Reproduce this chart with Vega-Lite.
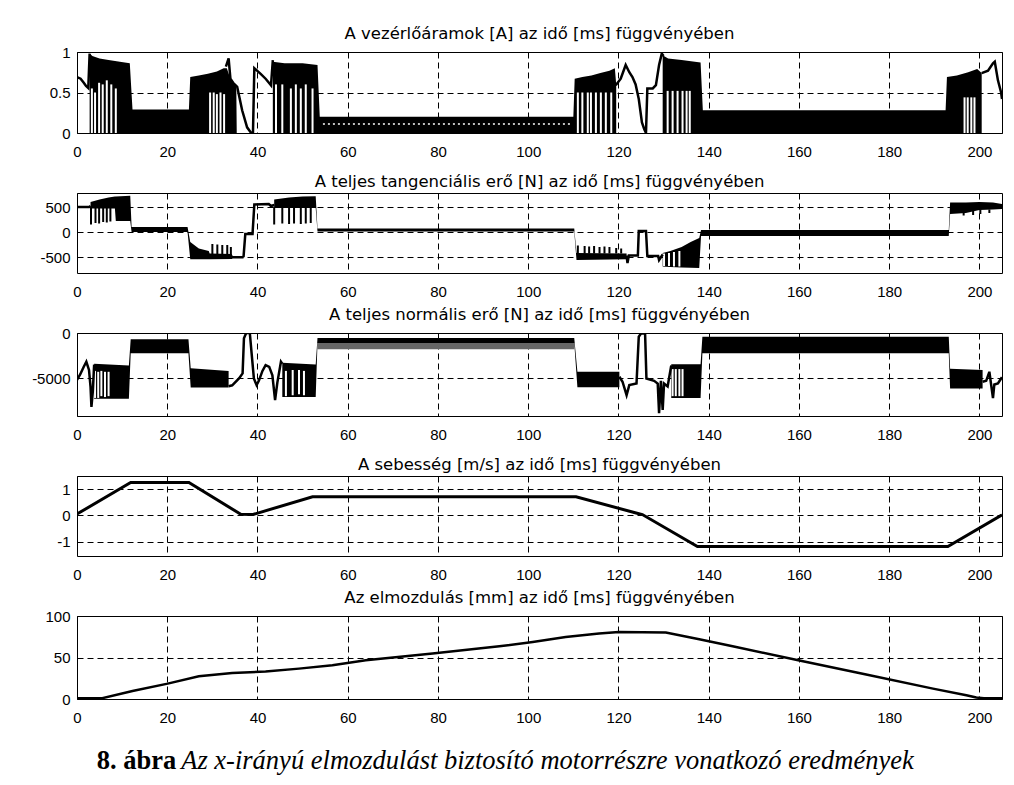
{
"$schema": "https://vega.github.io/schema/vega-lite/v6.json",
"padding": {"left": 31, "top": 25, "right": 5, "bottom": 5},
"background": "white",
"spacing": 60,
"bounds": "flush",
"datasets": {
"p1a": [
{"s":1,"t":2.8,"lo":0,"hi":0.98},{"s":1,"t":3.4,"lo":0,"hi":0.95},{"s":1,"t":5.0,"lo":0,"hi":0.92},{"s":1,"t":7.0,"lo":0,"hi":0.90},{"s":1,"t":9.5,"lo":0,"hi":0.88},{"s":1,"t":11.7,"lo":0,"hi":0.86},{"s":1,"t":12.3,"lo":0,"hi":0.29},{"s":1,"t":24.8,"lo":0,"hi":0.29},{"s":1,"t":25.1,"lo":0,"hi":0.69},{"s":1,"t":27.0,"lo":0,"hi":0.71},{"s":1,"t":29.0,"lo":0,"hi":0.73},{"s":1,"t":31.0,"lo":0,"hi":0.76},{"s":1,"t":32.5,"lo":0,"hi":0.80},{"s":1,"t":33.2,"lo":0,"hi":0.80},{"s":1,"t":34.0,"lo":0,"hi":0.67},{"s":1,"t":35.3,"lo":0,"hi":0.57},{"s":1,"t":35.4,"lo":0,"hi":0},
{"s":2,"t":43.4,"lo":0,"hi":0.88},{"s":2,"t":46.0,"lo":0,"hi":0.86},{"s":2,"t":50.0,"lo":0,"hi":0.86},{"s":2,"t":53.3,"lo":0,"hi":0.84},{"s":2,"t":53.8,"lo":0,"hi":0.2},{"s":2,"t":110.0,"lo":0,"hi":0.2},{"s":2,"t":110.3,"lo":0,"hi":0.67},{"s":2,"t":112.0,"lo":0,"hi":0.69},{"s":2,"t":114.0,"lo":0,"hi":0.71},{"s":2,"t":116.0,"lo":0,"hi":0.74},{"s":2,"t":118.0,"lo":0,"hi":0.77},{"s":2,"t":119.2,"lo":0,"hi":0.80},{"s":2,"t":119.5,"lo":0,"hi":0.6},
{"s":3,"t":129.8,"lo":0,"hi":0.96},{"s":3,"t":131.0,"lo":0,"hi":0.92},{"s":3,"t":134.0,"lo":0,"hi":0.90},{"s":3,"t":138.2,"lo":0,"hi":0.87},{"s":3,"t":138.7,"lo":0,"hi":0.28},{"s":3,"t":192.5,"lo":0,"hi":0.28},{"s":3,"t":192.8,"lo":0,"hi":0.69},{"s":3,"t":195.0,"lo":0,"hi":0.71},{"s":3,"t":197.5,"lo":0,"hi":0.75},{"s":3,"t":199.5,"lo":0,"hi":0.79},{"s":3,"t":200.5,"lo":0,"hi":0.74}
],
"p1l": [
{"s":1,"t":0,"lo":0.69},{"s":1,"t":0.8,"lo":0.67},{"s":1,"t":1.5,"lo":0.62},{"s":1,"t":2.0,"lo":0.58},{"s":1,"t":2.5,"lo":0.555},{"s":1,"t":2.8,"lo":0.98},
{"s":2,"t":33.0,"lo":0.82},{"s":2,"t":33.6,"lo":0.92},{"s":2,"t":34.0,"lo":0.67},{"s":2,"t":34.6,"lo":0.62},{"s":2,"t":35.5,"lo":0.57},{"s":2,"t":36.6,"lo":0.28},{"s":2,"t":37.7,"lo":0.07},{"s":2,"t":38.6,"lo":0.0},{"s":2,"t":39.0,"lo":0.0},{"s":2,"t":39.3,"lo":0.80},{"s":2,"t":40.7,"lo":0.73},{"s":2,"t":41.8,"lo":0.67},{"s":2,"t":43.0,"lo":0.59},{"s":2,"t":43.4,"lo":0.90},
{"s":4,"t":119.4,"lo":0.59},{"s":4,"t":120.5,"lo":0.67},{"s":4,"t":121.6,"lo":0.84},{"s":4,"t":122.4,"lo":0.75},{"s":4,"t":123.1,"lo":0.69},{"s":4,"t":123.8,"lo":0.60},{"s":4,"t":124.5,"lo":0.42},{"s":4,"t":125.2,"lo":0.13},{"s":4,"t":125.7,"lo":0.05},{"s":4,"t":126.1,"lo":0.0},{"s":4,"t":126.4,"lo":0.55},{"s":4,"t":127.6,"lo":0.55},{"s":4,"t":128.3,"lo":0.59},{"s":4,"t":129.0,"lo":0.84},{"s":4,"t":129.6,"lo":0.98},{"s":4,"t":130.0,"lo":0.95},
{"s":5,"t":200.5,"lo":0.74},{"s":5,"t":201.9,"lo":0.77},{"s":5,"t":203.0,"lo":0.86},{"s":5,"t":203.4,"lo":0.88},{"s":5,"t":204.1,"lo":0.65},{"s":5,"t":204.8,"lo":0.5},{"s":5,"t":205,"lo":0.42}
],
"p1d": [
{"s":1,"t":54.5,"lo":0.11},{"s":1,"t":109.5,"lo":0.11}
],
"p1g": [
{"t":3.3,"lo":0,"hi":0.55},{"t":4.0,"lo":0,"hi":0.5},{"t":4.9,"lo":0,"hi":0.62},{"t":5.7,"lo":0,"hi":0.6},{"t":6.6,"lo":0,"hi":0.65},{"t":7.6,"lo":0,"hi":0.6},{"t":8.6,"lo":0,"hi":0.55},
{"t":29.5,"lo":0,"hi":0.5},{"t":30.3,"lo":0,"hi":0.5},{"t":31.0,"lo":0,"hi":0.48},{"t":31.8,"lo":0,"hi":0.5},{"t":32.6,"lo":0,"hi":0.48},
{"t":44.1,"lo":0,"hi":0.6},{"t":45.5,"lo":0,"hi":0.6},{"t":47.4,"lo":0,"hi":0.55},{"t":48.5,"lo":0,"hi":0.6},{"t":49.6,"lo":0,"hi":0.55},{"t":50.7,"lo":0,"hi":0.6},{"t":52.2,"lo":0,"hi":0.55},
{"t":111.0,"lo":0,"hi":0.5},{"t":112.0,"lo":0,"hi":0.5},{"t":113.2,"lo":0,"hi":0.5},{"t":113.9,"lo":0,"hi":0.5},{"t":115.0,"lo":0,"hi":0.5},{"t":116.1,"lo":0,"hi":0.5},{"t":117.2,"lo":0,"hi":0.5},{"t":118.4,"lo":0,"hi":0.5},
{"t":130.9,"lo":0,"hi":0.52},{"t":132.0,"lo":0,"hi":0.52},{"t":133.1,"lo":0,"hi":0.52},{"t":134.2,"lo":0,"hi":0.52},{"t":135.1,"lo":0,"hi":0.52},{"t":135.8,"lo":0,"hi":0.52},
{"t":196.7,"lo":0,"hi":0.44},{"t":197.4,"lo":0,"hi":0.44},{"t":198.2,"lo":0,"hi":0.44},{"t":198.9,"lo":0,"hi":0.44}
],
"p2a": [
{"s":1,"t":3.0,"lo":470,"hi":600},{"s":1,"t":5.0,"lo":470,"hi":650},{"s":1,"t":7.0,"lo":470,"hi":690},{"s":1,"t":8.4,"lo":470,"hi":710},{"s":1,"t":8.6,"lo":220,"hi":712},{"s":1,"t":11.8,"lo":220,"hi":725},{"s":1,"t":12.1,"lo":0,"hi":100},{"s":1,"t":24.5,"lo":0,"hi":100},{"s":1,"t":25.1,"lo":-545,"hi":-200},{"s":1,"t":27.0,"lo":-545,"hi":-330},{"s":1,"t":29.2,"lo":-545,"hi":-380},{"s":1,"t":29.4,"lo":-545,"hi":-430},{"s":1,"t":34.3,"lo":-540,"hi":-440},{"s":1,"t":34.5,"lo":-530,"hi":-480},{"s":1,"t":36.9,"lo":-530,"hi":-480},
{"s":2,"t":43.7,"lo":480,"hi":650},{"s":2,"t":47.0,"lo":480,"hi":690},{"s":2,"t":50.0,"lo":480,"hi":710},{"s":2,"t":52.9,"lo":480,"hi":715},{"s":2,"t":53.3,"lo":10,"hi":70},{"s":2,"t":110.2,"lo":10,"hi":70},{"s":2,"t":110.7,"lo":-560,"hi":-420},{"s":2,"t":121.8,"lo":-545,"hi":-430},
{"s":3,"t":129.8,"lo":-690,"hi":-420},{"s":3,"t":131.5,"lo":-700,"hi":-380},{"s":3,"t":134.0,"lo":-710,"hi":-300},{"s":3,"t":136.0,"lo":-715,"hi":-200},{"s":3,"t":137.9,"lo":-720,"hi":-120},{"s":3,"t":138.3,"lo":-80,"hi":40},{"s":3,"t":193.2,"lo":-80,"hi":40},{"s":3,"t":193.5,"lo":360,"hi":590},{"s":3,"t":197.0,"lo":380,"hi":590},{"s":3,"t":200.0,"lo":440,"hi":600},{"s":3,"t":203.0,"lo":450,"hi":590},{"s":3,"t":205.0,"lo":460,"hi":560}
],
"p2l": [
{"s":1,"t":0,"lo":500},{"s":1,"t":2.7,"lo":500},{"s":1,"t":3.0,"lo":520},
{"s":2,"t":36.9,"lo":-505},{"s":2,"t":37.3,"lo":-40},{"s":2,"t":38.9,"lo":-40},{"s":2,"t":39.3,"lo":550},{"s":2,"t":42.5,"lo":560},{"s":2,"t":43.0,"lo":520},{"s":2,"t":43.7,"lo":540},
{"s":3,"t":121.8,"lo":-470},{"s":3,"t":122.0,"lo":-620},{"s":3,"t":122.3,"lo":-470},{"s":3,"t":124.3,"lo":-470},{"s":3,"t":124.5,"lo":20},{"s":3,"t":126.1,"lo":20},{"s":3,"t":126.4,"lo":-480},{"s":3,"t":128.8,"lo":-480},{"s":3,"t":129.0,"lo":-560},{"s":3,"t":129.8,"lo":-450}
],
"p2s": [
{"t":3.1,"lo":150,"hi":500},{"t":4.1,"lo":180,"hi":500},{"t":4.9,"lo":170,"hi":500},{"t":5.8,"lo":200,"hi":500},{"t":6.6,"lo":190,"hi":500},{"t":7.4,"lo":210,"hi":500},
{"t":30.0,"lo":-440,"hi":-240},{"t":31.1,"lo":-440,"hi":-250},{"t":32.2,"lo":-440,"hi":-260},{"t":33.3,"lo":-440,"hi":-260},{"t":34.1,"lo":-480,"hi":-300},
{"t":43.7,"lo":150,"hi":500},{"t":45.5,"lo":170,"hi":500},{"t":47.0,"lo":160,"hi":500},{"t":48.1,"lo":170,"hi":500},{"t":49.6,"lo":160,"hi":500},{"t":50.7,"lo":170,"hi":500},{"t":51.8,"lo":180,"hi":500},
{"t":111.0,"lo":-430,"hi":-270},{"t":112.5,"lo":-430,"hi":-280},{"t":113.5,"lo":-430,"hi":-290},{"t":114.6,"lo":-430,"hi":-280},{"t":115.8,"lo":-430,"hi":-300},{"t":116.9,"lo":-430,"hi":-290},{"t":118.0,"lo":-430,"hi":-300},{"t":119.5,"lo":-430,"hi":-320},{"t":120.6,"lo":-430,"hi":-330},
{"t":196.5,"lo":330,"hi":450},{"t":198.6,"lo":340,"hi":450},{"t":200.2,"lo":360,"hi":450},{"t":202.2,"lo":380,"hi":450}
],
"p2g": [
{"t":130.1,"lo":-680,"hi":-430},{"t":131.2,"lo":-680,"hi":-420},{"t":132.3,"lo":-690,"hi":-400},{"t":133.5,"lo":-690,"hi":-380}
],
"p3a": [
{"s":1,"t":3.8,"lo":-7300,"hi":-3400},{"s":1,"t":11.5,"lo":-7300,"hi":-3600},{"s":1,"t":11.9,"lo":-2250,"hi":-700},{"s":1,"t":24.7,"lo":-2250,"hi":-700},{"s":1,"t":25.2,"lo":-6050,"hi":-3900},{"s":1,"t":33.6,"lo":-6050,"hi":-4200},
{"s":2,"t":45.5,"lo":-7100,"hi":-3300},{"s":2,"t":52.9,"lo":-7100,"hi":-3500},{"s":2,"t":53.3,"lo":-1100,"hi":-550},{"s":2,"t":110.2,"lo":-1100,"hi":-550},{"s":2,"t":110.9,"lo":-6000,"hi":-4300},{"s":2,"t":120.2,"lo":-6000,"hi":-4300},
{"s":3,"t":131.7,"lo":-7200,"hi":-3450},{"s":3,"t":138.2,"lo":-7200,"hi":-3450},{"s":3,"t":138.6,"lo":-2250,"hi":-420},{"s":3,"t":193.2,"lo":-2250,"hi":-420},{"s":3,"t":193.5,"lo":-6150,"hi":-3950},{"s":3,"t":200.7,"lo":-6150,"hi":-4100}
],
"p3c": [
{"s":1,"t":53.3,"lo":-1800,"hi":-1100},{"s":1,"t":110.2,"lo":-1800,"hi":-1100}
],
"p3l": [
{"s":1,"t":0,"lo":-5200},{"s":1,"t":0.7,"lo":-4600},{"s":1,"t":1.5,"lo":-3740},{"s":1,"t":2.07,"lo":-3190},{"s":1,"t":2.66,"lo":-4100},{"s":1,"t":3.0,"lo":-5960},{"s":1,"t":3.2,"lo":-8190},{"s":1,"t":3.5,"lo":-6500},{"s":1,"t":3.8,"lo":-3500},
{"s":2,"t":33.6,"lo":-5900},{"s":2,"t":34.4,"lo":-5800},{"s":2,"t":35.9,"lo":-5040},{"s":2,"t":36.7,"lo":-4480},{"s":2,"t":37.0,"lo":-590},{"s":2,"t":37.5,"lo":0},{"s":2,"t":38.3,"lo":0},{"s":2,"t":38.7,"lo":-2260},{"s":2,"t":39.2,"lo":-5040},{"s":2,"t":39.8,"lo":-5780},{"s":2,"t":40.3,"lo":-5300},{"s":2,"t":41.1,"lo":-4200},{"s":2,"t":41.8,"lo":-3555},{"s":2,"t":42.6,"lo":-3750},{"s":2,"t":43.3,"lo":-4700},{"s":2,"t":43.9,"lo":-7450},{"s":2,"t":44.4,"lo":-5500},{"s":2,"t":45.2,"lo":-3190},{"s":2,"t":45.5,"lo":-3400},
{"s":3,"t":120.2,"lo":-4850},{"s":3,"t":120.9,"lo":-5400},{"s":3,"t":121.8,"lo":-6890},{"s":3,"t":122.4,"lo":-5770},{"s":3,"t":124.0,"lo":-5600},{"s":3,"t":124.5,"lo":-407},{"s":3,"t":125.0,"lo":-50},{"s":3,"t":125.9,"lo":-50},{"s":3,"t":126.2,"lo":-5040},{"s":3,"t":127.9,"lo":-5300},{"s":3,"t":128.7,"lo":-5600},{"s":3,"t":129.0,"lo":-8900},{"s":3,"t":129.4,"lo":-5300},{"s":3,"t":129.8,"lo":-8530},{"s":3,"t":130.1,"lo":-5600},{"s":3,"t":130.9,"lo":-5930},{"s":3,"t":131.7,"lo":-3600},
{"s":4,"t":200.7,"lo":-5400},{"s":4,"t":201.5,"lo":-5300},{"s":4,"t":202.2,"lo":-4300},{"s":4,"t":203.0,"lo":-7220},{"s":4,"t":203.3,"lo":-5700},{"s":4,"t":204.1,"lo":-5600},{"s":4,"t":204.8,"lo":-5040},{"s":4,"t":205,"lo":-4900}
],
"p3g": [
{"t":4.0,"lo":-7200,"hi":-4200},{"t":4.7,"lo":-7200,"hi":-4300},{"t":5.4,"lo":-7000,"hi":-4200},{"t":6.2,"lo":-7100,"hi":-4300},{"t":7.0,"lo":-7000,"hi":-4300},
{"t":46.3,"lo":-7000,"hi":-4200},{"t":47.8,"lo":-6900,"hi":-4100},{"t":49.2,"lo":-6800,"hi":-4100},{"t":50.3,"lo":-6900,"hi":-4200},
{"t":132.0,"lo":-7000,"hi":-4000},{"t":132.7,"lo":-7000,"hi":-4000},{"t":133.5,"lo":-7000,"hi":-4000},{"t":134.2,"lo":-7000,"hi":-4000}
],
"p4": [
{"t":0,"lo":0.05},{"t":11.9,"lo":1.25},{"t":24.8,"lo":1.25},{"t":36.3,"lo":0.04},{"t":39.0,"lo":0.03},{"t":52.2,"lo":0.71},{"t":110.6,"lo":0.71},{"t":123.9,"lo":0.09},{"t":125.3,"lo":0.03},{"t":137.5,"lo":-1.19},{"t":193.0,"lo":-1.19},{"t":204.8,"lo":0.0},{"t":205,"lo":0.01}
],
"p5": [
{"t":0,"lo":1.0},{"t":5.6,"lo":1.0},{"t":12.3,"lo":9.6},{"t":20.1,"lo":18.5},{"t":27.0,"lo":27.3},{"t":34.4,"lo":31.3},{"t":41.8,"lo":33.0},{"t":49.2,"lo":36.6},{"t":56.6,"lo":40.6},{"t":64.0,"lo":46.6},{"t":78.8,"lo":54.7},{"t":93.6,"lo":63.5},{"t":101.0,"lo":68.7},{"t":108.3,"lo":74.7},{"t":115.7,"lo":78.8},{"t":120.1,"lo":80.7},{"t":130.5,"lo":80.0},{"t":137.9,"lo":72.0},{"t":145.3,"lo":63.5},{"t":160.1,"lo":46.5},{"t":174.9,"lo":29.5},{"t":189.7,"lo":12.5},{"t":197.1,"lo":4.5},{"t":199.3,"lo":1.7},{"t":201.0,"lo":1.0},{"t":205,"lo":1.0}
]
},
"vconcat": [
{
"width": 925, "height": 81,
"title": "A vezérlőáramok [A] az idő [ms] függvényében",
"encoding": {
"x": {"field": "t", "type": "quantitative", "title": null, "scale": {"domain": [0, 205], "nice": false, "zero": false}, "axis": {"values": [0,20,40,60,80,100,120,140,160,180,200], "labelExpr": "'' + datum.value"}},
"y": {"field": "lo", "type": "quantitative", "title": null, "scale": {"domain": [0, 1], "nice": false, "zero": false}, "axis": {"values": [0, 0.5, 1], "labelExpr": "'' + datum.value"}}
},
"layer": [
{"data": {"name": "p1a"}, "mark": {"type": "area", "color": "black", "clip": true}, "encoding": {"y2": {"field": "hi"}, "detail": {"field": "s", "type": "nominal"}}},
{"data": {"name": "p1g"}, "mark": {"type": "rule", "color": "white", "strokeWidth": 2, "clip": true}, "encoding": {"y2": {"field": "hi"}}},
{"data": {"name": "p1d"}, "mark": {"type": "line", "color": "white", "strokeWidth": 1.5, "strokeDash": [2, 3], "clip": true}, "encoding": {"detail": {"field": "s", "type": "nominal"}}},
{"data": {"name": "p1l"}, "mark": {"type": "line", "color": "black", "strokeWidth": 2.5, "clip": true}, "encoding": {"detail": {"field": "s", "type": "nominal"}}}
]
},
{
"width": 925, "height": 80,
"title": "A teljes tangenciális erő [N] az idő [ms] függvényében",
"encoding": {
"x": {"field": "t", "type": "quantitative", "title": null, "scale": {"domain": [0, 205], "nice": false, "zero": false}, "axis": {"values": [0,20,40,60,80,100,120,140,160,180,200], "labelExpr": "'' + datum.value"}},
"y": {"field": "lo", "type": "quantitative", "title": null, "scale": {"domain": [-820, 780], "nice": false, "zero": false}, "axis": {"values": [-500, 0, 500], "labelExpr": "'' + datum.value"}}
},
"layer": [
{"data": {"name": "p2a"}, "mark": {"type": "area", "color": "black", "clip": true}, "encoding": {"y2": {"field": "hi"}, "detail": {"field": "s", "type": "nominal"}}},
{"data": {"name": "p2s"}, "mark": {"type": "rule", "color": "black", "strokeWidth": 2, "clip": true}, "encoding": {"y2": {"field": "hi"}}},
{"data": {"name": "p2g"}, "mark": {"type": "rule", "color": "white", "strokeWidth": 2, "clip": true}, "encoding": {"y2": {"field": "hi"}}},
{"data": {"name": "p2l"}, "mark": {"type": "line", "color": "black", "strokeWidth": 2.5, "clip": true}, "encoding": {"detail": {"field": "s", "type": "nominal"}}}
]
},
{
"width": 925, "height": 83,
"title": "A teljes normális erő [N] az idő [ms] függvényében",
"encoding": {
"x": {"field": "t", "type": "quantitative", "title": null, "scale": {"domain": [0, 205], "nice": false, "zero": false}, "axis": {"values": [0,20,40,60,80,100,120,140,160,180,200], "labelExpr": "'' + datum.value"}},
"y": {"field": "lo", "type": "quantitative", "title": null, "scale": {"domain": [-9200, 0], "nice": false, "zero": false}, "axis": {"values": [-5000, 0], "labelExpr": "'' + datum.value"}}
},
"layer": [
{"data": {"name": "p3c"}, "mark": {"type": "area", "color": "#666666", "clip": true}, "encoding": {"y2": {"field": "hi"}, "detail": {"field": "s", "type": "nominal"}}},
{"data": {"name": "p3a"}, "mark": {"type": "area", "color": "black", "clip": true}, "encoding": {"y2": {"field": "hi"}, "detail": {"field": "s", "type": "nominal"}}},
{"data": {"name": "p3g"}, "mark": {"type": "rule", "color": "white", "strokeWidth": 2, "clip": true}, "encoding": {"y2": {"field": "hi"}}},
{"data": {"name": "p3l"}, "mark": {"type": "line", "color": "black", "strokeWidth": 2.5, "clip": true}, "encoding": {"detail": {"field": "s", "type": "nominal"}}}
]
},
{
"width": 925, "height": 80,
"title": "A sebesség [m/s] az idő [ms] függvényében",
"data": {"name": "p4"},
"mark": {"type": "line", "color": "black", "strokeWidth": 3, "clip": true},
"encoding": {
"x": {"field": "t", "type": "quantitative", "title": null, "scale": {"domain": [0, 205], "nice": false, "zero": false}, "axis": {"values": [0,20,40,60,80,100,120,140,160,180,200], "labelExpr": "'' + datum.value"}},
"y": {"field": "lo", "type": "quantitative", "title": null, "scale": {"domain": [-1.55, 1.5], "nice": false, "zero": false}, "axis": {"values": [-1, 0, 1], "labelExpr": "'' + datum.value"}}
}
},
{
"width": 925, "height": 83,
"title": "Az elmozdulás [mm] az idő [ms] függvényében",
"data": {"name": "p5"},
"mark": {"type": "line", "color": "black", "strokeWidth": 2.5, "clip": true},
"encoding": {
"x": {"field": "t", "type": "quantitative", "title": null, "scale": {"domain": [0, 205], "nice": false, "zero": false}, "axis": {"values": [0,20,40,60,80,100,120,140,160,180,200], "labelExpr": "'' + datum.value"}},
"y": {"field": "lo", "type": "quantitative", "title": null, "scale": {"domain": [0, 100], "nice": false, "zero": false}, "axis": {"values": [0, 50, 100], "labelExpr": "'' + datum.value"}}
}
},
{
"width": 925, "height": 4,
"view": {"stroke": null},
"layer": [
{"data": {"values": [{"label": "8. ábra"}]}, "mark": {"type": "text", "font": "Liberation Serif", "fontSize": 26.5, "fontWeight": "bold", "align": "right", "baseline": "middle", "color": "black"},
 "encoding": {"text": {"field": "label"}, "x": {"datum": 22.0, "type": "quantitative", "scale": {"domain": [0, 205], "nice": false, "zero": false}, "axis": null}}},
{"data": {"values": [{"label": "Az x-irányú elmozdulást biztosító motorrészre vonatkozó eredmények"}]}, "mark": {"type": "text", "font": "Liberation Serif", "fontSize": 26.5, "fontStyle": "italic", "align": "left", "baseline": "middle", "color": "black"},
 "encoding": {"text": {"field": "label"}, "x": {"datum": 23.1, "type": "quantitative", "scale": {"domain": [0, 205], "nice": false, "zero": false}, "axis": null}}}
]
}
],
"config": {
"view": {"stroke": "black", "strokeWidth": 1},
"axis": {"grid": true, "gridColor": "black", "gridDash": [6, 4], "gridOpacity": 1, "gridWidth": 1, "ticks": false, "domain": false, "labelFont": "Liberation Sans", "labelFontSize": 15, "labelColor": "black", "labelFlush": false, "labelOverlap": false},
"axisX": {"labelPadding": 11},
"axisY": {"labelPadding": 7},
"title": {"font": "DejaVu Sans", "fontSize": 16.5, "fontWeight": "normal", "color": "black", "anchor": "middle", "offset": 3, "baseline": "alphabetic"}
}
}
